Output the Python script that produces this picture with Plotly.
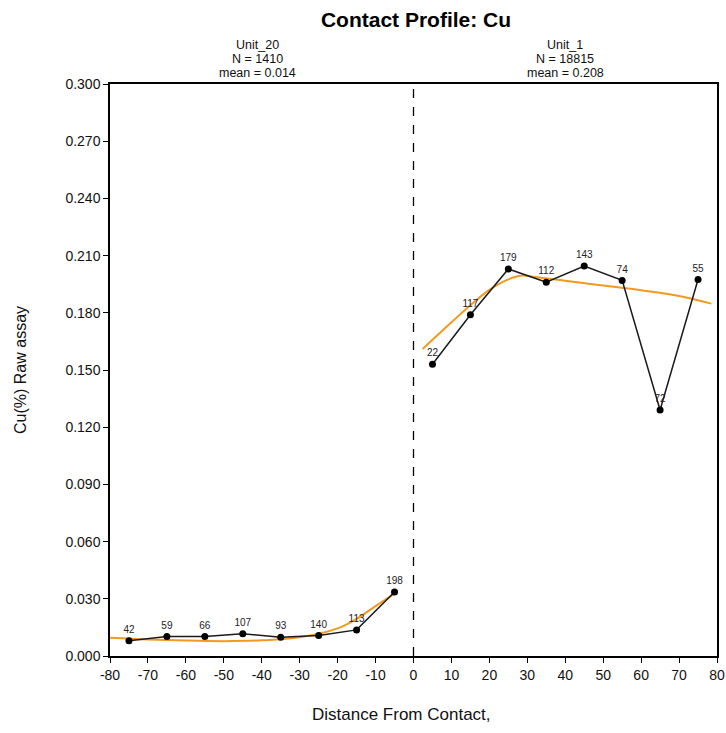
import plotly.graph_objects as go

# Data
left_x = [-75, -65, -55, -45, -35, -25, -15, -5]
left_y = [0.0080, 0.0102, 0.0102, 0.0117, 0.0098, 0.0108, 0.0137, 0.0336]
left_n = ["42", "59", "66", "107", "93", "140", "113", "198"]

right_x = [5, 15, 25, 35, 45, 55, 65, 75]
right_y = [0.153, 0.179, 0.203, 0.196, 0.2045, 0.197, 0.129, 0.1975]
right_n = ["22", "117", "179", "112", "143", "74", "72", "55"]

fit_left_x = [-80, -70, -60, -50, -40, -30, -20, -15, -10, -4.5]
fit_left_y = [0.0096, 0.0087, 0.0081, 0.0078, 0.0082, 0.0098, 0.0145, 0.0195, 0.0262, 0.0334]

fit_right_x = [2.4, 10, 15, 20, 25, 28.5, 32, 40, 50, 60, 70, 78.5]
fit_right_y = [0.161, 0.175, 0.184, 0.192, 0.1975, 0.1995, 0.1988, 0.1968, 0.1943, 0.1918, 0.1888, 0.1848]

y_ticks = [0.0, 0.03, 0.06, 0.09, 0.12, 0.15, 0.18, 0.21, 0.24, 0.27, 0.30]
x_ticks = list(range(-80, 81, 10))

title = "Contact Profile: Cu"
left_head = ["Unit_20", "N = 1410", "mean = 0.014"]
right_head = ["Unit_1", "N = 18815", "mean = 0.208"]
x_title = "Distance From Contact,"
y_title = "Cu(%) Raw assay"

orange = "#F39A1E"
font = "Liberation Sans, Arial, sans-serif"

W, H = 726, 733
L, R, T, B = 110, 9, 84, 77

fig = go.Figure()
for fx, fy in [(fit_left_x, fit_left_y), (fit_right_x, fit_right_y)]:
    fig.add_trace(go.Scatter(x=fx, y=fy, mode="lines",
                             line=dict(color=orange, width=2, shape="spline", smoothing=1.0),
                             hoverinfo="skip", showlegend=False))
for px, py, pn in [(left_x, left_y, left_n), (right_x, right_y, right_n)]:
    fig.add_trace(go.Scatter(x=px, y=py, mode="lines+markers+text", text=pn,
                             textposition="top center",
                             textfont=dict(size=10, color="#222", family=font),
                             line=dict(color="#1a1a1a", width=1.5),
                             marker=dict(color="black", size=7),
                             showlegend=False))

fig.add_shape(type="line", x0=0, x1=0, y0=0, y1=0.3, xref="x", yref="y",
              line=dict(color="black", width=1.3, dash="dash"))

for xc, lines in [(-41, left_head), (40, right_head)]:
    for i, s in enumerate(lines):
        fig.add_annotation(x=xc, y=1.0, xref="x", yref="paper", yanchor="middle", text=s,
                           showarrow=False, font=dict(size=12.5, color="#111", family=font),
                           yshift=39.5 - 14 * i)

fig.add_annotation(x=0.5, y=0, xref="paper", yref="paper", yanchor="middle", xanchor="center",
                   text=x_title, showarrow=False, yshift=-58, xshift=-12,
                   font=dict(size=17, family=font, color="#111"))
fig.add_annotation(x=0, y=0.5, xref="paper", yref="paper", xanchor="center", yanchor="middle",
                   text=y_title, showarrow=False, textangle=-90, xshift=-90,
                   font=dict(size=16, family=font, color="#111"))

fig.update_layout(
    width=W, height=H,
    margin=dict(l=L, r=R, t=T, b=B, autoexpand=False),
    paper_bgcolor="white", plot_bgcolor="white",
    font=dict(family=font, color="#111"),
    title=dict(text="<b>" + title + "</b>", x=416 / W, xanchor="center", y=1 - 20 / H,
               yanchor="middle", font=dict(size=21, family=font, color="black")),
    xaxis=dict(range=[-80, 80], tickvals=x_ticks, ticktext=[str(v) for v in x_ticks],
               ticks="outside", ticklen=5, tickcolor="black", showline=True, linecolor="black",
               linewidth=1.5, mirror=True, showgrid=False, zeroline=False, automargin=False,
               tickfont=dict(size=14, family=font, color="#111")),
    yaxis=dict(range=[0, 0.3], tickvals=y_ticks, ticktext=["%.3f" % v for v in y_ticks],
               ticks="outside", ticklen=5, tickcolor="black", showline=True, linecolor="black",
               linewidth=1.5, mirror=True, showgrid=False, zeroline=False, automargin=False,
               tickfont=dict(size=14, family=font, color="#111")),
)

fig.write_html("out.html", config={"displayModeBar": False},
               post_script="document.body.style.margin='0';document.body.style.overflow='hidden';")
